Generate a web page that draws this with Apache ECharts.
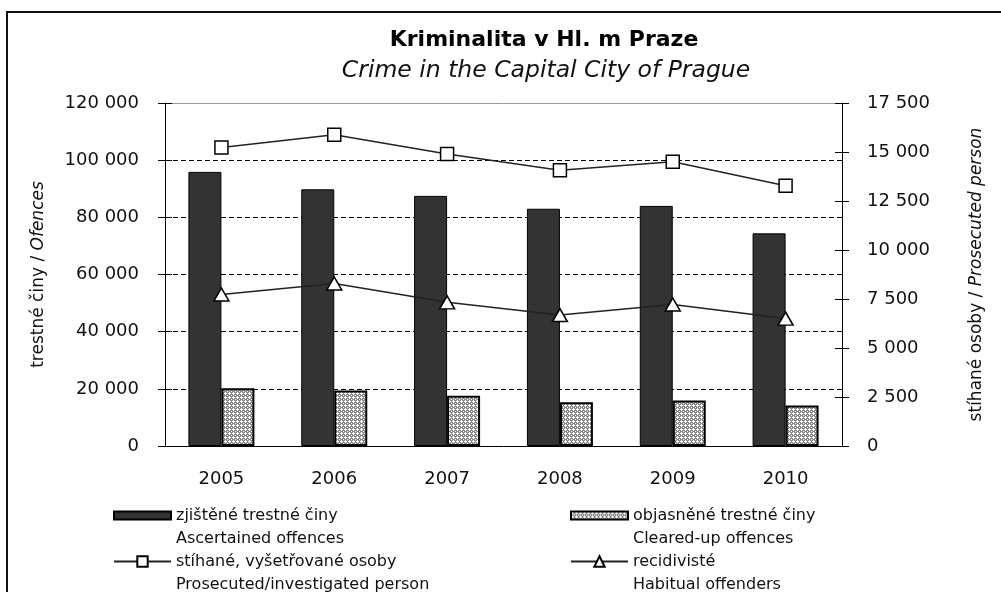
<!DOCTYPE html>
<html>
<head>
    <meta charset="UTF-8">
    <title>Kriminalita v Hl. m Praze</title>
    <script src="https://cdn.jsdelivr.net/npm/echarts@6.0.0/dist/echarts.min.js"></script>
</head>
<body style="margin: 0;overflow: hidden;background: #fff;">
<div id="chart" style="width: 1001px;height: 592px;"></div>
<script type="text/javascript">
    var years = ['2005', '2006', '2007', '2008', '2009', '2010'];
    // left axis: offences
    var ascertained = [95900, 89800, 87500, 83000, 84000, 74400];
    var clearedUp = [20200, 19400, 17600, 15300, 15900, 14200];
    // right axis: persons
    var prosecuted = [15230, 15880, 14900, 14070, 14500, 13280];
    var habitual = [7730, 8290, 7330, 6680, 7220, 6500];

    var legendNames = {
        'zjištěné trestné činy': 'Ascertained offences',
        'objasněné trestné činy': 'Cleared-up offences',
        'stíhané, vyšetřované osoby': 'Prosecuted/investigated person',
        'recidivisté': 'Habitual offenders'
    };

    var FONT = '"DejaVu Sans", sans-serif';

    function fmt(v) {
        return String(v).replace(/\B(?=(\d{3})+(?!\d))/g, ' ');
    }

    // small grey/white grid pattern for the cleared-up bars
    function makePattern() {
        var c = document.createElement('canvas');
        c.width = 4;
        c.height = 4;
        var ctx = c.getContext('2d');
        ctx.fillStyle = '#8c8c8c';
        ctx.fillRect(0, 0, 4, 4);
        ctx.fillStyle = '#ffffff';
        ctx.fillRect(1, 0, 1, 3);
        ctx.fillRect(0, 1, 3, 1);
        ctx.fillRect(3, 3, 1, 1);
        return c;
    }

    // blank first line so the icon sits level with the czech line
    function legendBox(name, left, top, h, icon) {
        var box = {
            data: [name],
            left: left,
            top: top,
            padding: 0,
            itemWidth: 57,
            itemHeight: h,
            selectedMode: false,
            formatter: function (n) { return ' \n' + n + '\n' + legendNames[n]; },
            textStyle: {
                fontFamily: FONT,
                fontSize: 16,
                color: '#111',
                lineHeight: 23
            }
        };
        if (icon) box.icon = icon;
        return box;
    }

    var valAxisLabel = {fontFamily: FONT, fontSize: 18, color: '#111'};

    var chart = echarts.init(document.getElementById('chart'));
    var option = {
        backgroundColor: '#fff',
        animation: false,
        graphic: [
            {
                type: 'rect',
                shape: {x: 7, y: 12, width: 1200, height: 800},
                style: {fill: 'none', stroke: '#111', lineWidth: 2},
                silent: true
            },
            {
                type: 'text',
                x: 544, y: 40,
                style: {
                    text: 'Kriminalita v Hl. m Praze',
                    font: 'bold 22px ' + FONT,
                    fill: '#000',
                    align: 'center',
                    verticalAlign: 'middle'
                }
            },
            {
                type: 'text',
                x: 546, y: 71,
                style: {
                    text: 'Crime in the Capital City of Prague',
                    font: 'italic 23.5px ' + FONT,
                    fill: '#111',
                    align: 'center',
                    verticalAlign: 'middle'
                }
            }
        ],
        legend: [
            legendBox('zjištěné trestné činy', 113, 481, 8, 'rect'),
            legendBox('objasněné trestné činy', 570, 481, 8, 'rect'),
            legendBox('stíhané, vyšetřované osoby', 113, 527, 13),
            legendBox('recidivisté', 570, 527, 13)
        ],
        grid: {left: 165, right: 159, top: 103, bottom: 146},
        xAxis: [
            {
                type: 'category',
                data: years,
                axisLine: {onZero: false, lineStyle: {color: '#000', width: 1}},
                axisTick: {length: 6, lineStyle: {color: '#000'}},
                axisLabel: {fontFamily: FONT, fontSize: 18, color: '#111', margin: 24}
            },
            {
                type: 'category',
                data: years,
                position: 'bottom',
                axisLine: {show: false, onZero: false},
                axisTick: {inside: true, length: 6, lineStyle: {color: '#000'}},
                axisLabel: {show: false}
            },
            {
                type: 'category',
                data: years,
                position: 'top',
                axisLine: {onZero: false, lineStyle: {color: '#999', width: 1}},
                axisTick: {show: false},
                axisLabel: {show: false}
            }
        ],
        yAxis: [
            {
                type: 'value',
                min: 0, max: 120000, interval: 20000,
                position: 'left',
                name: '{a|trestné činy / }{b|Ofences}',
                nameLocation: 'middle',
                nameRotate: 90,
                nameGap: 118,
                nameTextStyle: {
                    rich: {
                        a: {fontFamily: FONT, fontSize: 17, color: '#111'},
                        b: {fontFamily: FONT, fontSize: 17, color: '#111', fontStyle: 'italic'}
                    }
                },
                axisLine: {show: true, lineStyle: {color: '#000'}},
                axisTick: {show: true, length: 7, lineStyle: {color: '#000'}},
                axisLabel: Object.assign({margin: 26, formatter: fmt}, valAxisLabel),
                splitLine: {
                    show: true,
                    showMinLine: false,
                    showMaxLine: false,
                    lineStyle: {color: '#000', type: [5, 3], width: 1}
                }
            },
            {
                type: 'value',
                min: 0, max: 17500, interval: 2500,
                position: 'right',
                name: '{a|stíhané osoby / }{b|Prosecuted person}',
                nameLocation: 'middle',
                nameRotate: 90,
                nameGap: 126,
                nameTextStyle: {
                    rich: {
                        a: {fontFamily: FONT, fontSize: 17, color: '#111'},
                        b: {fontFamily: FONT, fontSize: 17, color: '#111', fontStyle: 'italic'}
                    }
                },
                axisLine: {show: true, lineStyle: {color: '#000'}},
                axisTick: {show: true, length: 7, lineStyle: {color: '#000'}},
                axisLabel: Object.assign({margin: 25, formatter: fmt}, valAxisLabel),
                splitLine: {show: false}
            },
            {
                type: 'value',
                min: 0, max: 120000, interval: 20000,
                position: 'left',
                axisLine: {show: false},
                axisTick: {show: true, inside: true, length: 7, lineStyle: {color: '#000'}},
                axisLabel: {show: false},
                splitLine: {show: false}
            },
            {
                type: 'value',
                min: 0, max: 17500, interval: 2500,
                position: 'right',
                axisLine: {show: false},
                axisTick: {show: true, inside: true, length: 7, lineStyle: {color: '#000'}},
                axisLabel: {show: false},
                splitLine: {show: false}
            }
        ],
        series: [
            {
                name: 'zjištěné trestné činy',
                type: 'bar',
                yAxisIndex: 0,
                barWidth: 33,
                barGap: '0%',
                itemStyle: {color: '#333333', borderColor: '#000', borderWidth: 1},
                data: ascertained
            },
            {
                name: 'objasněné trestné činy',
                type: 'bar',
                yAxisIndex: 0,
                barWidth: 33,
                barGap: '0%',
                itemStyle: {
                    color: {image: makePattern(), repeat: 'repeat'},
                    borderColor: '#000',
                    borderWidth: 2
                },
                data: clearedUp
            },
            {
                name: 'stíhané, vyšetřované osoby',
                type: 'line',
                yAxisIndex: 1,
                symbol: 'rect',
                symbolSize: 13,
                lineStyle: {color: '#222', width: 1.5},
                itemStyle: {color: '#fff', borderColor: '#000', borderWidth: 1.5},
                data: prosecuted
            },
            {
                name: 'recidivisté',
                type: 'line',
                yAxisIndex: 1,
                symbol: 'triangle',
                symbolSize: [15, 13],
                lineStyle: {color: '#222', width: 1.5},
                itemStyle: {color: '#fff', borderColor: '#000', borderWidth: 1.5},
                data: habitual
            }
        ]
    };
    chart.setOption(option);
</script>
</body>
</html>
